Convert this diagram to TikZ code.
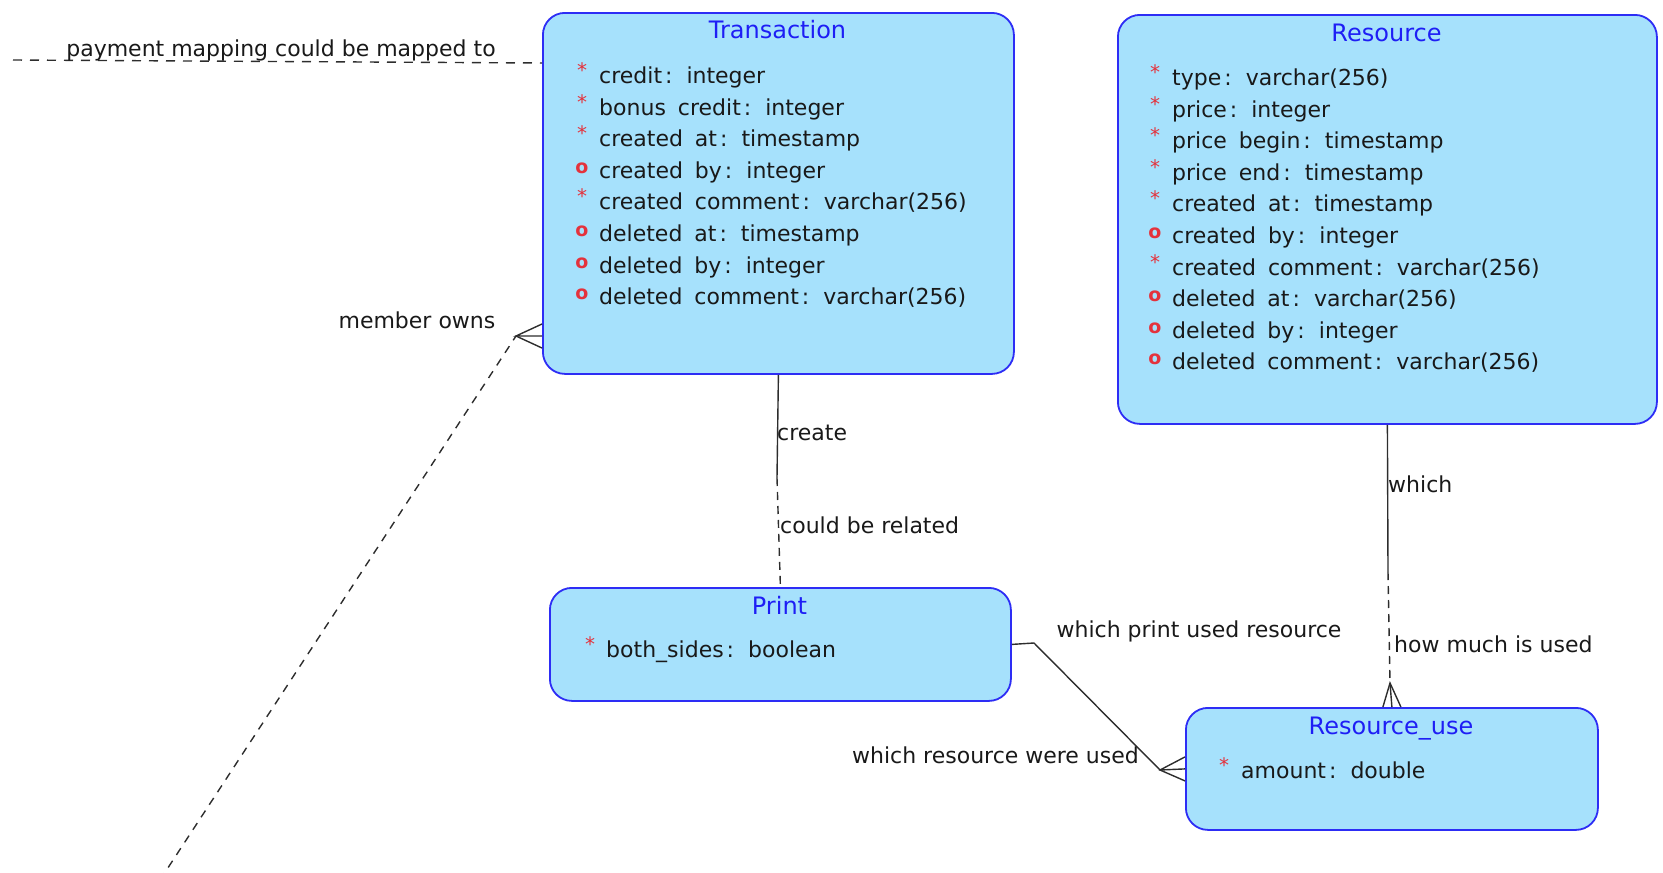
\documentclass[tikz,border=0pt]{standalone}
\usepackage{fontspec}
\setmainfont{DejaVu Sans}
\usetikzlibrary{calc}
\definecolor{entfill}{RGB}{166,225,252}
\definecolor{entdraw}{RGB}{45,45,245}
\definecolor{ttlblue}{RGB}{30,30,245}
\definecolor{mkred}{RGB}{228,50,60}
\definecolor{txtdark}{RGB}{25,25,25}
\definecolor{lngray}{RGB}{45,45,45}
\newcommand{\asep}{\hspace{3pt}:\hspace{14pt}}
\newcommand{\wsp}{\hspace{12pt}}
\begin{document}
\begin{tikzpicture}[x=1pt,y=-1pt,
  entity/.style={draw=entdraw,fill=entfill,line width=1.8pt,rounded corners=22pt,anchor=north west,inner sep=0pt},
  ttl/.style={text=ttlblue,font=\fontsize{24}{28}\selectfont,anchor=base,inner sep=0pt},
  attr/.style={text=txtdark,font=\fontsize{22}{26}\selectfont,anchor=base west,inner sep=0pt},
  star/.style={text=mkred,font=\fontsize{20}{24}\selectfont,anchor=base,inner sep=0pt},
  opt/.style={text=mkred,font=\bfseries\fontsize{19}{22}\selectfont,anchor=base,inner sep=0pt},
  rel/.style={draw=lngray,line width=1.4pt},
  reldash/.style={rel,dash pattern=on 8pt off 6pt},
  lbl/.style={text=txtdark,font=\fontsize{22}{26}\selectfont,inner sep=0pt},
]
\useasboundingbox (0,0) rectangle (1663,873);

% ---------- entities ----------
\node[entity,minimum width=471pt,minimum height=361pt] (trans) at (542,12) {};
\node[entity,minimum width=539pt,minimum height=409pt] (res) at (1117,14) {};
\node[entity,minimum width=461pt,minimum height=113pt] (print) at (549,587) {};
\node[entity,minimum width=412pt,minimum height=122pt] (ruse) at (1185,707) {};

% ---------- Transaction ----------
\node[ttl] (transT) at (777.5,38) {Transaction};
\node[star] (tm1) at (582,77) {*};
\node[attr] (ta1) at (599,83) {credit\asep integer};
\node[star] (tm2) at (582,109) {*};
\node[attr] (ta2) at (599,115) {bonus\wsp credit\asep integer};
\node[star] (tm3) at (582,140) {*};
\node[attr] (ta3) at (599,146) {created\wsp at\asep timestamp};
\node[opt] (tm4) at (582,173) {o};
\node[attr] (ta4) at (599,178) {created\wsp by\asep integer};
\node[star] (tm5) at (582,203) {*};
\node[attr] (ta5) at (599,209) {created\wsp comment\asep varchar(256)};
\node[opt] (tm6) at (582,236) {o};
\node[attr] (ta6) at (599,241) {deleted\wsp at\asep timestamp};
\node[opt] (tm7) at (582,268) {o};
\node[attr] (ta7) at (599,273) {deleted\wsp by\asep integer};
\node[opt] (tm8) at (582,299) {o};
\node[attr] (ta8) at (599,304) {deleted\wsp comment\asep varchar(256)};

% ---------- Resource ----------
\node[ttl] (resT) at (1386.5,41) {Resource};
\node[star] (rm1) at (1155,79) {*};
\node[attr] (ra1) at (1172,85) {type\asep varchar(256)};
\node[star] (rm2) at (1155,111) {*};
\node[attr] (ra2) at (1172,117) {price\asep integer};
\node[star] (rm3) at (1155,142) {*};
\node[attr] (ra3) at (1172,148) {price\wsp begin\asep timestamp};
\node[star] (rm4) at (1155,174) {*};
\node[attr] (ra4) at (1172,180) {price\wsp end\asep timestamp};
\node[star] (rm5) at (1155,205) {*};
\node[attr] (ra5) at (1172,211) {created\wsp at\asep timestamp};
\node[opt] (rm6) at (1155,238) {o};
\node[attr] (ra6) at (1172,243) {created\wsp by\asep integer};
\node[star] (rm7) at (1155,269) {*};
\node[attr] (ra7) at (1172,275) {created\wsp comment\asep varchar(256)};
\node[opt] (rm8) at (1155,301) {o};
\node[attr] (ra8) at (1172,306) {deleted\wsp at\asep varchar(256)};
\node[opt] (rm9) at (1155,333) {o};
\node[attr] (ra9) at (1172,338) {deleted\wsp by\asep integer};
\node[opt] (rm10) at (1155,364) {o};
\node[attr] (ra10) at (1172,369) {deleted\wsp comment\asep varchar(256)};

% ---------- Print ----------
\node[ttl] (printT) at (779.5,614) {Print};
\node[star] (pm1) at (590,651) {*};
\node[attr] (pa1) at (606,657) {both\_sides\asep boolean};

% ---------- Resource_use ----------
\node[ttl] (ruseT) at (1391,734) {Resource\_use};
\node[star] (um1) at (1224,772) {*};
\node[attr] (ua1) at (1241,778) {amount\asep double};

% ---------- connectors ----------
% payment mapping
\coordinate (payL) at (13,60);
\coordinate (payR) at ($(trans.north west)+(0,51)$);
\draw[rel,dash pattern=on 9pt off 8pt] (payL) -- (payR);
\node[lbl,anchor=base] (payLbl) at (281,56.5) {payment mapping could be mapped to};

% member owns
\coordinate (moS) at (160,880);
\coordinate (moA) at (516,336);
\draw[rel,dash pattern=on 8pt off 7pt] (moS) -- (moA);
\draw[rel] ($(trans.north west)+(0,312)$) -- (moA) -- ($(trans.north west)+(0,324)$);
\draw[rel] (moA) -- ($(trans.north west)+(0,336)$);
\node[lbl,anchor=base] (moLbl) at (417,328) {member owns};

% Transaction - Print
\coordinate (tpM) at (777,478);
\draw[rel] (trans.south) -- (tpM);
\draw[reldash] (tpM) -- (print.north);
\node[lbl,anchor=base west] (tpL1) at (777,440) {create};
\node[lbl,anchor=base west] (tpL2) at (780,533) {could be related};

% Resource - Resource_use
\coordinate (rrM) at (1388,572);
\coordinate (rrA) at (1390,683);
\draw[rel] (res.south) -- (rrM);
\draw[reldash] (rrM) -- (rrA);
\draw[rel] ($(ruse.north)+(-9,0)$) -- (rrA) -- ($(ruse.north)+(9,0)$);
\draw[rel] (rrA) -- (ruse.north);
\node[lbl,anchor=base west] (rrL1) at (1388,492) {which};
\node[lbl,anchor=base west] (rrL2) at (1394,652.5) {how much is used};

% Print - Resource_use
\coordinate (prB) at (1034,643);
\coordinate (prA) at (1160,770);
\draw[rel] (print.east) -- (prB) -- (prA);
\draw[rel] ($(ruse.west)+(0,-12)$) -- (prA) -- ($(ruse.west)+(0,12)$);
\draw[rel] (prA) -- (ruse.west);
\node[lbl,anchor=base] (prL1) at (1199,637) {which print used resource};
\node[lbl,anchor=base] (prL2) at (995.5,763) {which resource were used};
\end{tikzpicture}
\end{document}
